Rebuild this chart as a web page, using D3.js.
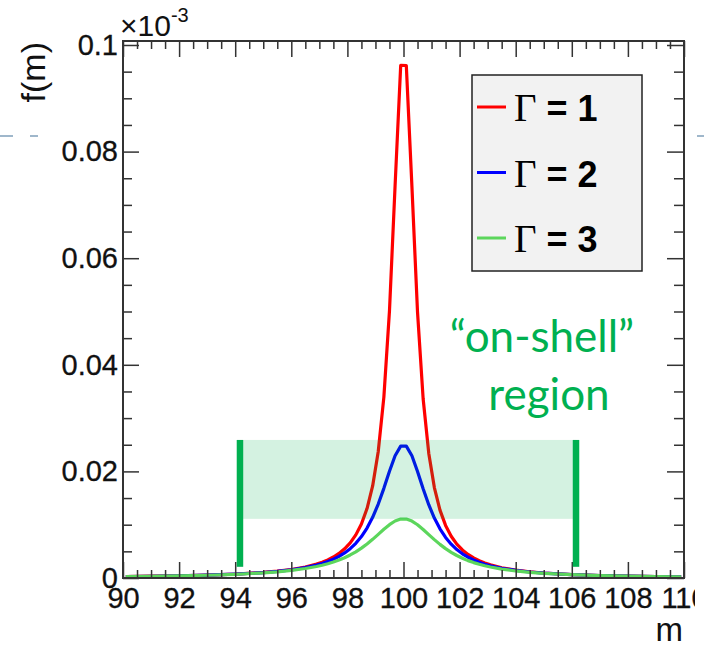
<!DOCTYPE html>
<html>
<head>
<meta charset="utf-8">
<script src="https://cdn.jsdelivr.net/npm/d3@7"></script>
<style>
  html, body { margin: 0; padding: 0; background: #fff; }
  svg text { font-family: "Liberation Sans", Arial, sans-serif; }
</style>
</head>
<body>
<svg id="chart" width="712" height="645"></svg>
<script>
// mass points the curves were read at
const mass = [90.1, 91, 92, 93, 94, 95, 95.5, 96, 96.5,
  96.9, 97.1, 97.3, 97.5, 97.7, 97.9, 98.1, 98.3, 98.5, 98.7, 98.9, 99.1, 99.3, 99.5, 99.7, 99.9,
  100.1, 100.3, 100.5, 100.7, 100.9, 101.1, 101.3, 101.5, 101.7, 101.9, 102.1, 102.3, 102.5, 102.7, 102.9, 103.1,
  103.5, 104, 104.5, 105, 106, 107, 108, 109, 109.9];

const gamma1 = [0.00028, 0.00034, 0.00042, 0.00054, 0.00073, 0.00104, 0.00128, 0.00160, 0.00207,
  0.00261, 0.00297, 0.00340, 0.00394, 0.00461, 0.00547, 0.00659, 0.00809, 0.01014, 0.01303, 0.01728, 0.02375, 0.03394, 0.05013, 0.07359, 0.09616,
  0.09615, 0.07347, 0.04988, 0.03363, 0.02342, 0.01697, 0.01274, 0.00987, 0.00784, 0.00636, 0.00526, 0.00442, 0.00376, 0.00323, 0.00281, 0.00246,
  0.00193, 0.00148, 0.00117, 0.00094, 0.00065, 0.00047, 0.00036, 0.00028, 0.00023];

const gamma2 = [0.00028, 0.00033, 0.00042, 0.00054, 0.00072, 0.00101, 0.00123, 0.00153, 0.00195,
  0.00242, 0.00273, 0.00309, 0.00352, 0.00405, 0.00470, 0.00550, 0.00651, 0.00777, 0.00937, 0.01138, 0.01387, 0.01682, 0.02002, 0.02294, 0.02475,
  0.02475, 0.02293, 0.01998, 0.01674, 0.01376, 0.01124, 0.00922, 0.00761, 0.00635, 0.00534, 0.00454, 0.00390, 0.00338, 0.00295, 0.00259, 0.00229,
  0.00183, 0.00142, 0.00113, 0.00092, 0.00064, 0.00047, 0.00036, 0.00028, 0.00023];

const gamma3 = [0.00028, 0.00033, 0.00041, 0.00052, 0.00069, 0.00096, 0.00116, 0.00142, 0.00178,
  0.00216, 0.00240, 0.00268, 0.00300, 0.00337, 0.00381, 0.00432, 0.00491, 0.00560, 0.00638, 0.00725, 0.00819, 0.00914, 0.01000, 0.01069, 0.01106,
  0.01106, 0.01068, 0.00999, 0.00911, 0.00815, 0.00720, 0.00631, 0.00551, 0.00482, 0.00422, 0.00370, 0.00326, 0.00289, 0.00257, 0.00229, 0.00206,
  0.00167, 0.00132, 0.00107, 0.00088, 0.00062, 0.00046, 0.00035, 0.00028, 0.00023];

const series = [
  { name: "1", values: gamma1, color: "#ff0000" },
  { name: "2", values: gamma2, color: "#0000ff" },
  { name: "3", values: gamma3, color: "#5cd65c" }
];

const xTicks = [90, 92, 94, 96, 98, 100, 102, 104, 106, 108, 110];
const yTicks = [0, 0.02, 0.04, 0.06, 0.08, 0.1];

// "on-shell" window drawn over the plot
const regionEdges = [94.17, 106.15];
const regionBand = [0.0111, 0.0259];
const regionBarBottom = 0.0021;

const svg = d3.select("#chart");
const pl = 123, pr = 684, pt = 41, pb = 578;

const x = d3.scaleLinear().domain([90, 110]).range([pl, pr]);
const y = d3.scaleLinear().domain([0, 0.10075]).range([pb, pt]);

const axisColor = "#333";

// slide decoration dashes
svg.append("line").attr("x1", 0).attr("x2", 40).attr("y1", 136).attr("y2", 136)
  .attr("stroke", "#9fb7cb").attr("stroke-width", 2).attr("stroke-dasharray", "13,17,8");
svg.append("line").attr("x1", 697).attr("x2", 704).attr("y1", 136).attr("y2", 136)
  .attr("stroke", "#9fb7cb").attr("stroke-width", 2);

// curves
const line = d3.line().x((d, i) => x(mass[i])).y(d => y(d));
svg.append("g").selectAll("path").data(series).join("path")
  .attr("d", d => line(d.values))
  .attr("fill", "none")
  .attr("stroke", d => d.color)
  .attr("stroke-width", 3.2)
  .attr("stroke-linejoin", "round");

// minor ticks
const minorX = d3.range(90, 110.01, 0.5).filter(v => Math.abs(v % 2) > 0.01);
const minorY = d3.range(0, 0.1001, 0.005).filter(v => Math.abs(v / 0.02 - Math.round(v / 0.02)) > 0.01);

function styleAxis(g) {
  g.select(".domain").remove();
  g.selectAll("line").attr("stroke", axisColor).attr("stroke-width", 1.5);
  g.selectAll("text").attr("fill", "#111").attr("font-size", 29)
    .attr("stroke", "#111").attr("stroke-width", 0.3)
    .attr("font-family", "Liberation Sans, Arial, sans-serif");
}

// bottom axis (labels clipped at the slide edge)
svg.append("clipPath").attr("id", "clipx").append("rect")
  .attr("x", 0).attr("y", -600).attr("width", 695).attr("height", 1300);

svg.append("g").attr("transform", `translate(0,${pb})`)
  .attr("clip-path", "url(#clipx)")
  .call(d3.axisBottom(x).tickValues(xTicks).tickSize(-16).tickPadding(9).tickFormat(d3.format("d")))
  .call(styleAxis);
svg.append("g").attr("transform", `translate(0,${pb})`)
  .call(d3.axisBottom(x).tickValues(minorX).tickSize(-8).tickFormat(""))
  .call(styleAxis);

// top axis
svg.append("g").attr("transform", `translate(0,${pt})`)
  .call(d3.axisTop(x).tickValues(xTicks).tickSize(-16).tickFormat(""))
  .call(styleAxis);
svg.append("g").attr("transform", `translate(0,${pt})`)
  .call(d3.axisTop(x).tickValues(minorX).tickSize(-8).tickFormat(""))
  .call(styleAxis);

// left axis
svg.append("g").attr("transform", `translate(${pl},0)`)
  .call(d3.axisLeft(y).tickValues(yTicks).tickSize(-16).tickPadding(5)
    .tickFormat(d => d === 0 ? "0" : String(+d.toFixed(2))))
  .call(styleAxis);
svg.append("g").attr("transform", `translate(${pl},0)`)
  .call(d3.axisLeft(y).tickValues(minorY).tickSize(-9).tickFormat(""))
  .call(styleAxis);

// right axis
svg.append("g").attr("transform", `translate(${pr},0)`)
  .call(d3.axisRight(y).tickValues(yTicks).tickSize(-17).tickFormat(""))
  .call(styleAxis);
svg.append("g").attr("transform", `translate(${pr},0)`)
  .call(d3.axisRight(y).tickValues(minorY).tickSize(-10).tickFormat(""))
  .call(styleAxis);

// frame
svg.append("rect").attr("x", pl).attr("y", pt)
  .attr("width", pr - pl).attr("height", pb - pt)
  .attr("fill", "none").attr("stroke", axisColor).attr("stroke-width", 2);

// axis titles
svg.append("text").attr("transform", "translate(45,42) rotate(-90)")
  .attr("text-anchor", "end").attr("font-size", 34).attr("fill", "#111").text("f(m)");
svg.append("text").attr("x", 683).attr("y", 641)
  .attr("text-anchor", "end").attr("font-size", 33).attr("fill", "#111").text("m");

const expo = svg.append("text").attr("x", 120).attr("y", 36).attr("font-size", 30).attr("fill", "#111");
expo.append("tspan").text("\u00d710");
expo.append("tspan").attr("font-size", 20).attr("dy", -14).text("-3");

// on-shell region overlay
svg.append("rect")
  .attr("x", x(regionEdges[0])).attr("width", x(regionEdges[1]) - x(regionEdges[0]))
  .attr("y", y(regionBand[1])).attr("height", y(regionBand[0]) - y(regionBand[1]))
  .attr("fill", "#00b050").attr("fill-opacity", 0.17);
svg.append("g").selectAll("line").data(regionEdges).join("line")
  .attr("x1", d => x(d)).attr("x2", d => x(d))
  .attr("y1", y(regionBand[1])).attr("y2", y(regionBarBottom))
  .attr("stroke", "#00b050").attr("stroke-width", 6.5);

const note = svg.append("g").attr("fill", "#00b050").attr("font-size", 44)
  .attr("text-anchor", "middle");
note.append("text").attr("x", 542).attr("y", 352).style("font-family", "Lato, sans-serif").text("\u201con-shell\u201d");
note.append("text").attr("x", 549).attr("y", 410).style("font-family", "Lato, sans-serif").text("region");

// legend
const legend = svg.append("g");
legend.append("rect").attr("x", 472).attr("y", 75).attr("width", 170).attr("height", 196)
  .attr("fill", "#f2f2f2").attr("stroke", "#222").attr("stroke-width", 1.5);
const rows = legend.selectAll("g.row").data(series).join("g")
  .attr("class", "row")
  .attr("transform", (d, i) => `translate(0,${107 + i * 65.5})`);
rows.append("line").attr("x1", 477).attr("x2", 506)
  .attr("stroke", d => d.color).attr("stroke-width", 3);
const lab = rows.append("text").attr("x", 514).attr("y", 14).attr("fill", "#000");
lab.append("tspan").attr("font-family", "Liberation Serif, Times New Roman, serif")
  .attr("font-size", 39).text("\u0393");
lab.append("tspan").attr("font-weight", "bold").attr("font-size", 36)
  .attr("font-family", "Liberation Sans, Arial, sans-serif")
  .text(d => " = " + d.name);
</script>
</body>
</html>
